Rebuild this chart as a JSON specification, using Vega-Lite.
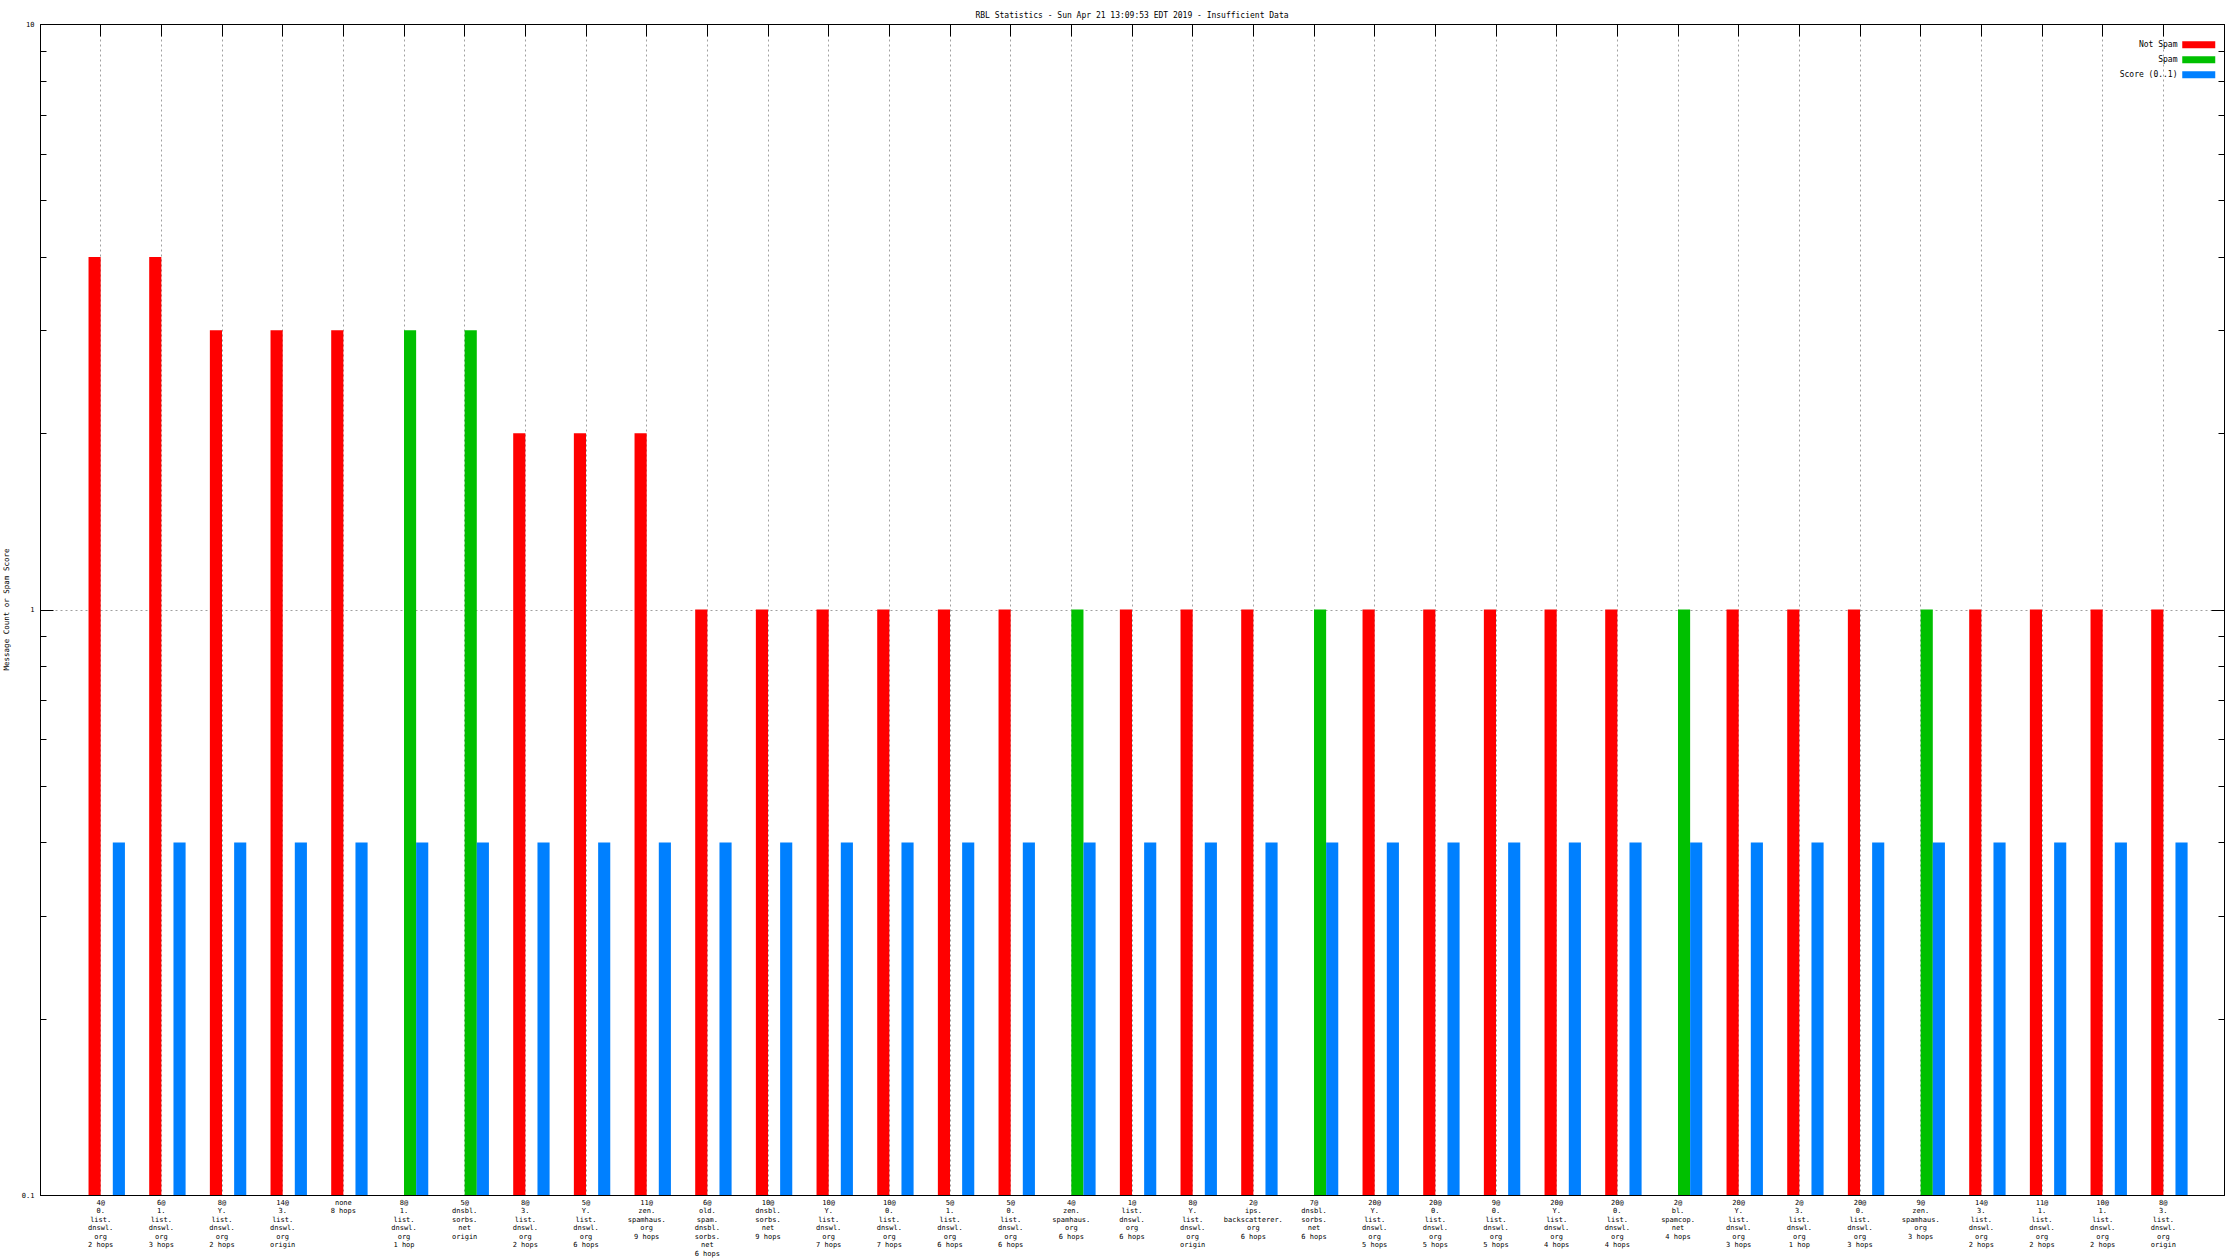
{
  "$schema": "https://vega.github.io/schema/vega-lite/v6.json",
  "width": 2184,
  "height": 1171,
  "autosize": {"type": "none"},
  "padding": {"left": 40, "top": 24, "right": 16, "bottom": 65},
  "background": "white",
  "title": {
    "text": "RBL Statistics - Sun Apr 21 13:09:53 EDT 2019 - Insufficient Data",
    "font": "DejaVu Sans Mono",
    "fontSize": 8,
    "fontWeight": "normal",
    "color": "black",
    "anchor": "middle",
    "baseline": "middle",
    "offset": -3.5
  },
  "config": {
    "view": {"stroke": "black", "strokeWidth": 1},
    "axis": {"domainColor": "black", "tickColor": "black", "labelColor": "black", "titleColor": "black"},
    "legend": {
      "orient": "none",
      "legendX": 2142,
      "legendY": 12.25,
      "padding": 0,
      "title": null,
      "symbolType": "M-1,-0.42H3V0.42H-1Z",
      "symbolSize": 272.25,
      "symbolStrokeWidth": 0,
      "symbolOpacity": 1,
      "labelAlign": "right",
      "labelOffset": -21.5,
      "labelFont": "DejaVu Sans Mono",
      "labelFontSize": 8,
      "labelColor": "black",
      "rowPadding": 2
    }
  },
  "data": {"values": [
    {"c": "4@|0.|list.|dnswl.|org|2 hops", "s": "Not Spam", "v": 4},
    {"c": "6@|1.|list.|dnswl.|org|3 hops", "s": "Not Spam", "v": 4},
    {"c": "8@|Y.|list.|dnswl.|org|2 hops", "s": "Not Spam", "v": 3},
    {"c": "14@|3.|list.|dnswl.|org|origin", "s": "Not Spam", "v": 3},
    {"c": "none|8 hops", "s": "Not Spam", "v": 3},
    {"c": "8@|1.|list.|dnswl.|org|1 hop", "s": "Spam", "v": 3},
    {"c": "5@|dnsbl.|sorbs.|net|origin", "s": "Spam", "v": 3},
    {"c": "8@|3.|list.|dnswl.|org|2 hops", "s": "Not Spam", "v": 2},
    {"c": "5@|Y.|list.|dnswl.|org|6 hops", "s": "Not Spam", "v": 2},
    {"c": "11@|zen.|spamhaus.|org|9 hops", "s": "Not Spam", "v": 2},
    {"c": "6@|old.|spam.|dnsbl.|sorbs.|net|6 hops", "s": "Not Spam", "v": 1},
    {"c": "10@|dnsbl.|sorbs.|net|9 hops", "s": "Not Spam", "v": 1},
    {"c": "10@|Y.|list.|dnswl.|org|7 hops", "s": "Not Spam", "v": 1},
    {"c": "10@|0.|list.|dnswl.|org|7 hops", "s": "Not Spam", "v": 1},
    {"c": "5@|1.|list.|dnswl.|org|6 hops", "s": "Not Spam", "v": 1},
    {"c": "5@|0.|list.|dnswl.|org|6 hops", "s": "Not Spam", "v": 1},
    {"c": "4@|zen.|spamhaus.|org|6 hops", "s": "Spam", "v": 1},
    {"c": "1@|list.|dnswl.|org|6 hops", "s": "Not Spam", "v": 1},
    {"c": "8@|Y.|list.|dnswl.|org|origin", "s": "Not Spam", "v": 1},
    {"c": "2@|ips.|backscatterer.|org|6 hops", "s": "Not Spam", "v": 1},
    {"c": "7@|dnsbl.|sorbs.|net|6 hops", "s": "Spam", "v": 1},
    {"c": "20@|Y.|list.|dnswl.|org|5 hops", "s": "Not Spam", "v": 1},
    {"c": "20@|0.|list.|dnswl.|org|5 hops", "s": "Not Spam", "v": 1},
    {"c": "9@|0.|list.|dnswl.|org|5 hops", "s": "Not Spam", "v": 1},
    {"c": "20@|Y.|list.|dnswl.|org|4 hops", "s": "Not Spam", "v": 1},
    {"c": "20@|0.|list.|dnswl.|org|4 hops", "s": "Not Spam", "v": 1},
    {"c": "2@|bl.|spamcop.|net|4 hops", "s": "Spam", "v": 1},
    {"c": "20@|Y.|list.|dnswl.|org|3 hops", "s": "Not Spam", "v": 1},
    {"c": "2@|3.|list.|dnswl.|org|1 hop", "s": "Not Spam", "v": 1},
    {"c": "20@|0.|list.|dnswl.|org|3 hops", "s": "Not Spam", "v": 1},
    {"c": "9@|zen.|spamhaus.|org|3 hops", "s": "Spam", "v": 1},
    {"c": "14@|3.|list.|dnswl.|org|2 hops", "s": "Not Spam", "v": 1},
    {"c": "11@|1.|list.|dnswl.|org|2 hops", "s": "Not Spam", "v": 1},
    {"c": "10@|1.|list.|dnswl.|org|2 hops", "s": "Not Spam", "v": 1},
    {"c": "8@|3.|list.|dnswl.|org|origin", "s": "Not Spam", "v": 1},
    {"c": "4@|0.|list.|dnswl.|org|2 hops", "s": "Score (0..1)", "v": 0.4},
    {"c": "6@|1.|list.|dnswl.|org|3 hops", "s": "Score (0..1)", "v": 0.4},
    {"c": "8@|Y.|list.|dnswl.|org|2 hops", "s": "Score (0..1)", "v": 0.4},
    {"c": "14@|3.|list.|dnswl.|org|origin", "s": "Score (0..1)", "v": 0.4},
    {"c": "none|8 hops", "s": "Score (0..1)", "v": 0.4},
    {"c": "8@|1.|list.|dnswl.|org|1 hop", "s": "Score (0..1)", "v": 0.4},
    {"c": "5@|dnsbl.|sorbs.|net|origin", "s": "Score (0..1)", "v": 0.4},
    {"c": "8@|3.|list.|dnswl.|org|2 hops", "s": "Score (0..1)", "v": 0.4},
    {"c": "5@|Y.|list.|dnswl.|org|6 hops", "s": "Score (0..1)", "v": 0.4},
    {"c": "11@|zen.|spamhaus.|org|9 hops", "s": "Score (0..1)", "v": 0.4},
    {"c": "6@|old.|spam.|dnsbl.|sorbs.|net|6 hops", "s": "Score (0..1)", "v": 0.4},
    {"c": "10@|dnsbl.|sorbs.|net|9 hops", "s": "Score (0..1)", "v": 0.4},
    {"c": "10@|Y.|list.|dnswl.|org|7 hops", "s": "Score (0..1)", "v": 0.4},
    {"c": "10@|0.|list.|dnswl.|org|7 hops", "s": "Score (0..1)", "v": 0.4},
    {"c": "5@|1.|list.|dnswl.|org|6 hops", "s": "Score (0..1)", "v": 0.4},
    {"c": "5@|0.|list.|dnswl.|org|6 hops", "s": "Score (0..1)", "v": 0.4},
    {"c": "4@|zen.|spamhaus.|org|6 hops", "s": "Score (0..1)", "v": 0.4},
    {"c": "1@|list.|dnswl.|org|6 hops", "s": "Score (0..1)", "v": 0.4},
    {"c": "8@|Y.|list.|dnswl.|org|origin", "s": "Score (0..1)", "v": 0.4},
    {"c": "2@|ips.|backscatterer.|org|6 hops", "s": "Score (0..1)", "v": 0.4},
    {"c": "7@|dnsbl.|sorbs.|net|6 hops", "s": "Score (0..1)", "v": 0.4},
    {"c": "20@|Y.|list.|dnswl.|org|5 hops", "s": "Score (0..1)", "v": 0.4},
    {"c": "20@|0.|list.|dnswl.|org|5 hops", "s": "Score (0..1)", "v": 0.4},
    {"c": "9@|0.|list.|dnswl.|org|5 hops", "s": "Score (0..1)", "v": 0.4},
    {"c": "20@|Y.|list.|dnswl.|org|4 hops", "s": "Score (0..1)", "v": 0.4},
    {"c": "20@|0.|list.|dnswl.|org|4 hops", "s": "Score (0..1)", "v": 0.4},
    {"c": "2@|bl.|spamcop.|net|4 hops", "s": "Score (0..1)", "v": 0.4},
    {"c": "20@|Y.|list.|dnswl.|org|3 hops", "s": "Score (0..1)", "v": 0.4},
    {"c": "2@|3.|list.|dnswl.|org|1 hop", "s": "Score (0..1)", "v": 0.4},
    {"c": "20@|0.|list.|dnswl.|org|3 hops", "s": "Score (0..1)", "v": 0.4},
    {"c": "9@|zen.|spamhaus.|org|3 hops", "s": "Score (0..1)", "v": 0.4},
    {"c": "14@|3.|list.|dnswl.|org|2 hops", "s": "Score (0..1)", "v": 0.4},
    {"c": "11@|1.|list.|dnswl.|org|2 hops", "s": "Score (0..1)", "v": 0.4},
    {"c": "10@|1.|list.|dnswl.|org|2 hops", "s": "Score (0..1)", "v": 0.4},
    {"c": "8@|3.|list.|dnswl.|org|origin", "s": "Score (0..1)", "v": 0.4}
  ]},
  "layer": [
    {
      "mark": {"type": "bar"},
      "encoding": {
        "x": {
          "field": "c", "type": "nominal", "sort": null,
          "scale": {"type": "band", "paddingInner": 0, "paddingOuter": 0.5},
          "axis": {
            "orient": "bottom", "title": null, "labelAngle": 0,
            "labelExpr": "split(datum.label, '|')",
            "labelFont": "DejaVu Sans Mono", "labelFontSize": 7, "labelLineHeight": 8.5,
            "labelBaseline": "top", "labelPadding": 3, "labelOverlap": false, "labelBound": false,
            "ticks": false, "domain": true, "grid": true, "gridColor": "#a0a0a0", "gridDash": [2, 3],
            "bandPosition": 0.5
          }
        },
        "xOffset": {
          "field": "s", "type": "nominal",
          "scale": {"domain": ["Not Spam", "Spam", "Score (0..1)"], "paddingInner": 0, "paddingOuter": 1, "align": 0.75}
        },
        "y": {
          "field": "v", "type": "quantitative", "stack": null,
          "scale": {"type": "log", "domain": [0.1, 10], "nice": false},
          "axis": {
            "orient": "left",
            "values": [0.1, 0.2, 0.3, 0.4, 0.5, 0.6, 0.7, 0.8, 0.9, 1, 2, 3, 4, 5, 6, 7, 8, 9, 10],
            "labelExpr": "datum.value == 10 ? '10' : datum.value == 1 ? '1' : datum.value == 0.1 ? '0.1' : ''",
            "labelFont": "DejaVu Sans Mono", "labelFontSize": 7, "labelPadding": 19,
            "labelOverlap": false, "labelBound": false, "labelFlush": false,
            "tickSize": {"condition": {"test": "datum.value == 1 || datum.value == 10 || datum.value == 0.1", "value": -13}, "value": -6},
            "grid": true, "gridColor": "#a0a0a0", "gridDash": [2, 3],
            "gridOpacity": {"condition": {"test": "datum.value == 1", "value": 1}, "value": 0},
            "title": "Message Count or Spam Score",
            "titleFont": "DejaVu Sans Mono", "titleFontSize": 7.5, "titleFontWeight": "normal",
            "titleAngle": 270, "titleX": -34, "titleY": 585, "titleAlign": "center", "titleBaseline": "middle"
          }
        },
        "color": {
          "field": "s", "type": "nominal",
          "scale": {"domain": ["Not Spam", "Spam", "Score (0..1)"], "range": ["#ff0000", "#00c000", "#0080ff"]},
          "legend": {"title": null}
        }
      }
    },
    {
      "mark": {"type": "bar", "opacity": 0},
      "encoding": {
        "x": {
          "field": "c", "type": "nominal", "sort": null,
          "axis": {"orient": "top", "title": null, "labels": false, "ticks": true, "tickSize": -12, "grid": false, "domain": true, "bandPosition": 0.5}
        },
        "y": {
          "field": "v", "type": "quantitative", "stack": null,
          "axis": {
            "orient": "right", "title": null, "labels": false, "grid": false, "domain": true,
            "values": [0.1, 0.2, 0.3, 0.4, 0.5, 0.6, 0.7, 0.8, 0.9, 1, 2, 3, 4, 5, 6, 7, 8, 9, 10],
            "tickSize": {"condition": {"test": "datum.value == 1 || datum.value == 10 || datum.value == 0.1", "value": -13}, "value": -6}
          }
        }
      }
    }
  ],
  "resolve": {"scale": {"x": "shared", "y": "shared"}, "axis": {"x": "independent", "y": "independent"}}
}
